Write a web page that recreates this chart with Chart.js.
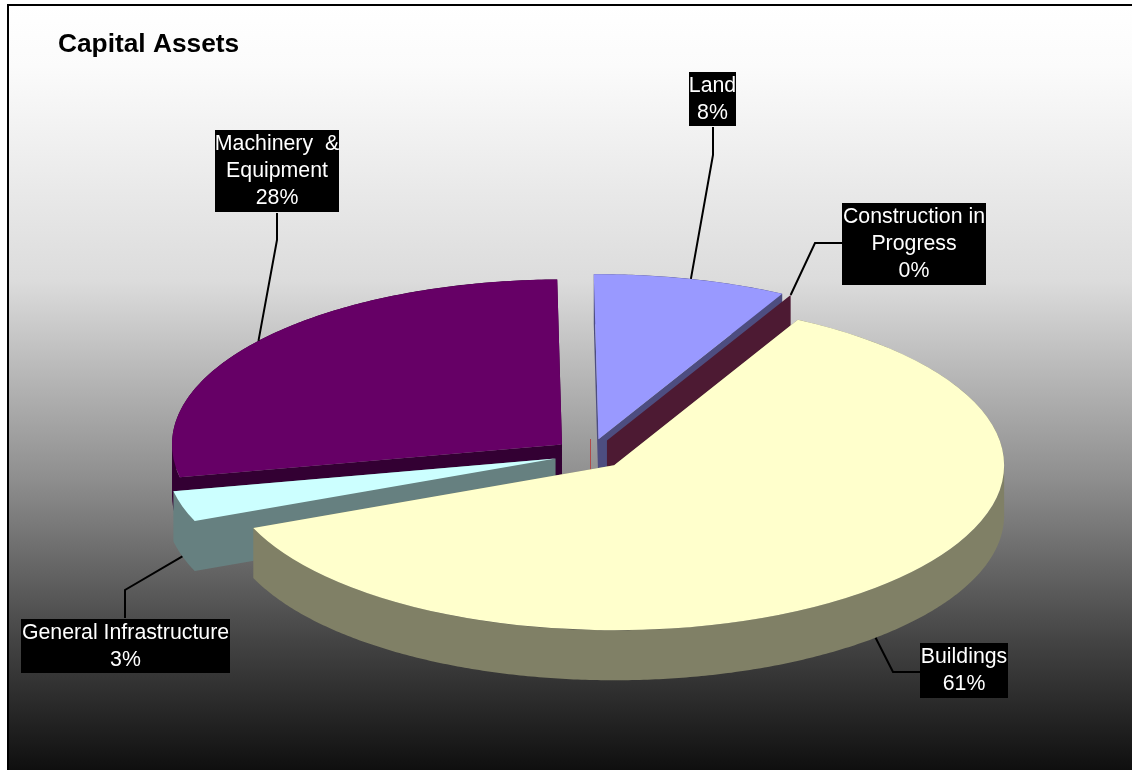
<!DOCTYPE html>
<html>
<head>
<meta charset="utf-8">
<title>Capital Assets</title>
<script src="https://cdn.jsdelivr.net/npm/chart.js@4"></script>
<style>
  html, body { margin: 0; padding: 0; background: #fff; }
  canvas { display: block; }
</style>
</head>
<body>
<canvas id="chart" width="1132" height="770"></canvas>
<script>
// Asset categories and their share of the total, in percent.
const categories = ['Land', 'Construction in Progress', 'Buildings', 'General Infrastructure', 'Machinery & Equipment'];
const shares = [8, 0, 61, 3, 28];

// How each category label breaks over lines inside its caption box.
const captionLines = [['Land'], ['Construction in', 'Progress'], ['Buildings'], ['General Infrastructure'], ['Machinery  &', 'Equipment']];

// Slice colours: top face and the darker side wall.
const faceColors = ['#9999ff', '#993366', '#ffffcc', '#ccffff', '#660066'];
const wallColors = ['#4d4d80', '#4d1a33', '#808066', '#668080', '#330033'];

// Back-to-front painting order of the slices.
const paintOrder = [0, 1, 4, 3, 2];

// Caption boxes [left, top, right, bottom] and their leader elbows [x, y, x, y].
const captionBoxes = [[689, 72, 736, 126], [842, 203, 986, 285], [920, 643, 1008, 698], [21, 619, 230, 673], [215, 130, 339, 212]];
const leaderElbows = [[713, 155, 713, 127], [815, 243, 842, 243], [893, 672, 920, 672], [125, 590, 125, 618], [277, 240, 277, 213]];

// Pie geometry.
const PIE_RADIUS = 390;
const TILT = 0.423;       // vertical squash of the pie plane
const DEPTH = 50;         // wall height
const CENTER_Y = 454;
const EXPLODE = 36;       // distance each slice is pulled from the centre

function project(arc, angle, radius) {
  const mid = (arc.startAngle + arc.endAngle) / 2;
  return {
    x: arc.x + Math.cos(mid) * EXPLODE + Math.cos(angle) * radius,
    y: CENTER_Y + (Math.sin(mid) * EXPLODE + Math.sin(angle) * radius) * TILT
  };
}

function sliceOutline(arc) {
  const pts = [project(arc, arc.startAngle, 0)];
  const steps = Math.max(1, Math.ceil((arc.endAngle - arc.startAngle) / 0.01));
  for (let i = 0; i <= steps; i++) {
    pts.push(project(arc, arc.startAngle + (arc.endAngle - arc.startAngle) * i / steps, arc.outerRadius));
  }
  return pts;
}

function fillWalls(ctx, arc, color) {
  const pts = sliceOutline(arc);
  ctx.beginPath();
  for (let i = 0; i < pts.length; i++) {
    const a = pts[i], b = pts[(i + 1) % pts.length];
    // Keep one winding for every quad so the union fills without seams.
    const [p, q] = (b.x - a.x) >= 0 ? [a, b] : [b, a];
    ctx.moveTo(p.x, p.y);
    ctx.lineTo(q.x, q.y);
    ctx.lineTo(q.x, q.y + DEPTH);
    ctx.lineTo(p.x, p.y + DEPTH);
    ctx.closePath();
  }
  ctx.fillStyle = color;
  ctx.fill();
}

const pie3d = {
  id: 'pie3d',
  beforeDraw(chart) {
    const { ctx, width, height } = chart;
    ctx.save();
    ctx.fillStyle = '#fff';
    ctx.fillRect(0, 0, width, height);
    const g = ctx.createLinearGradient(0, 5, 0, height);
    g.addColorStop(0, '#ffffff');
    g.addColorStop(0.08, '#fbfbfb');
    g.addColorStop(0.36, '#dcdcdc');
    g.addColorStop(0.62, '#8e8e8e');
    g.addColorStop(0.83, '#444444');
    g.addColorStop(1, '#0f0f0f');
    ctx.fillStyle = g;
    ctx.fillRect(8, 5, width - 8, height - 5);
    ctx.fillStyle = '#000';
    ctx.fillRect(7, 4, width - 7, 2);
    ctx.fillRect(7, 4, 2, height - 4);
    ctx.restore();
  },
  beforeDatasetDraw(chart, args) {
    const { ctx } = chart;
    const arcs = chart.getDatasetMeta(args.index).data;
    ctx.save();
    // Hairline left on the pie centre by the empty slice's wall.
    ctx.fillStyle = '#b04a4a';
    ctx.fillRect(Math.floor(arcs[0].x), 439, 1, DEPTH);
    paintOrder.forEach(i => {
      const arc = arcs[i];
      const mid = (arc.startAngle + arc.endAngle) / 2;
      fillWalls(ctx, arc, wallColors[i]);
      ctx.save();
      ctx.translate(0, CENTER_Y);
      ctx.scale(1, TILT);
      ctx.translate(Math.cos(mid) * EXPLODE, Math.sin(mid) * EXPLODE - arc.y);
      arc.draw(ctx);
      ctx.restore();
    });
    ctx.restore();
    return false;
  },
  afterDatasetsDraw(chart) {
    const { ctx } = chart;
    const arcs = chart.getDatasetMeta(0).data;
    ctx.save();
    arcs.forEach((arc, i) => {
      const [left, top, right, bottom] = captionBoxes[i];
      const [ex1, ey1, ex2, ey2] = leaderElbows[i];
      const mid = (arc.startAngle + arc.endAngle) / 2;
      const rim = project(arc, mid, arc.outerRadius);
      const front = Math.sin(mid) > 0;
      ctx.beginPath();
      ctx.moveTo(rim.x, rim.y + (front ? DEPTH : 0));
      ctx.lineTo(ex1, ey1);
      ctx.lineTo(ex2, ey2);
      ctx.strokeStyle = '#000';
      ctx.lineWidth = 2;
      ctx.stroke();

      ctx.fillStyle = '#000';
      ctx.fillRect(left, top, right - left, bottom - top);
      const lines = [...captionLines[i], shares[i] + '%'];
      ctx.fillStyle = '#fff';
      ctx.font = '21.3px "Liberation Sans", Arial, sans-serif';
      ctx.textAlign = 'center';
      ctx.textBaseline = 'middle';
      lines.forEach((line, n) => {
        ctx.fillText(line, (left + right) / 2, top + 14 + n * 27);
      });
    });
    ctx.restore();
  }
};

new Chart(document.getElementById('chart'), {
  type: 'pie',
  plugins: [pie3d],
  data: {
    labels: categories,
    datasets: [{
      data: shares,
      backgroundColor: faceColors,
      borderWidth: 0,
      radius: PIE_RADIUS
    }]
  },
  options: {
    responsive: false,
    animation: false,
    rotation: -0.7,
    layout: { padding: { left: 58, right: 10 } },
    plugins: {
      legend: { display: false },
      tooltip: { enabled: false },
      title: {
        display: true,
        text: 'Capital Assets',
        align: 'start',
        color: '#000',
        padding: { top: 29, bottom: 10 },
        font: { family: '"Liberation Sans", Arial, sans-serif', size: 26.3, weight: 'bold' }
      }
    }
  }
});
</script>
</body>
</html>
